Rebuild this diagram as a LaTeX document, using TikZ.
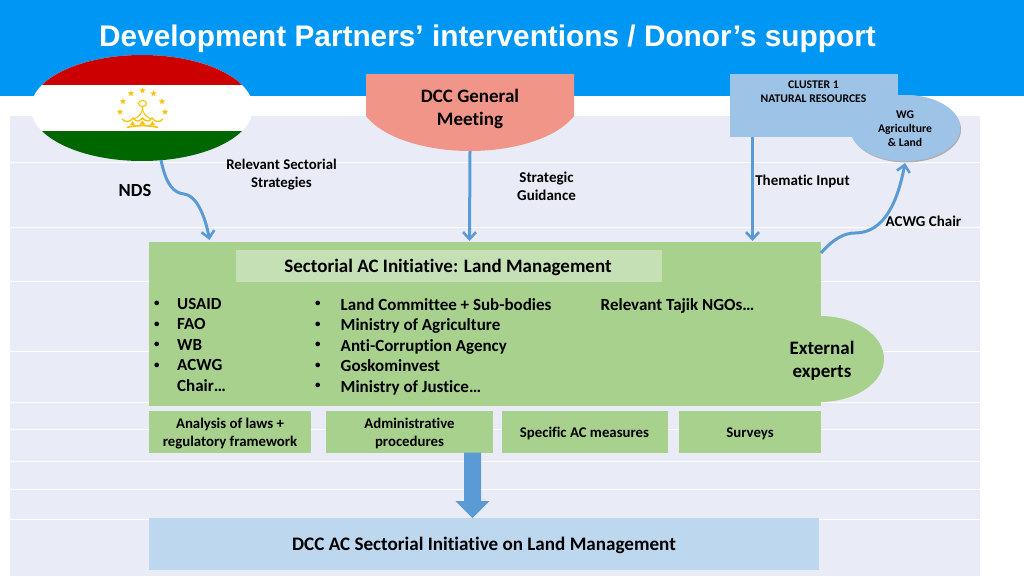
\documentclass[tikz,border=0pt]{standalone}
\usepackage{fontspec}
\setmainfont{Carlito}[Ligatures=NoCommon]
\newfontfamily\titlefont{Liberation Sans}
\usetikzlibrary{arrows.meta,shadows,shapes.geometric,calc}
\definecolor{topblue}{HTML}{0096F4}
\definecolor{band}{HTML}{E9ECF6}
\definecolor{boxgreen}{HTML}{A9D18E}
\definecolor{lightgreen}{HTML}{C5E0B4}
\definecolor{salmon}{HTML}{F09587}
\definecolor{clusterblue}{HTML}{9DC3E6}
\definecolor{wgblue}{HTML}{9DC3E6}
\definecolor{pale}{HTML}{BDD7EE}
\definecolor{arrowblue}{HTML}{5B9BD5}
\definecolor{flagred}{HTML}{CC0000}
\definecolor{flaggreen}{HTML}{006600}
\definecolor{gold}{HTML}{F8C300}
\tikzset{
 x=1pt,y=-1pt,
 lab/.style={font=\bfseries\fontsize{14.8}{18}\selectfont,align=center,text=black},
 small/.style={font=\bfseries\fontsize{11.7}{14}\selectfont,align=center,text=black},
 subbox/.style={fill=boxgreen,draw=none,minimum height=42pt,inner sep=0pt,align=center,anchor=north west},
 listtext/.style={font=\bfseries\fontsize{17}{20.5}\selectfont,align=left,anchor=north west,inner sep=0pt,text=black},
 bullets/.style={font=\bfseries\fontsize{11}{20.5}\selectfont,align=left,anchor=north west,inner sep=0pt,text=black},
 conn/.style={draw=arrowblue,line width=3pt,-{Straight Barb[length=7pt,width=13pt,line width=2.6pt]}},
 goldstar/.style={fill=gold,draw=none},
}
\begin{document}
\begin{tikzpicture}
\useasboundingbox (0,0) rectangle (1024,576);
\fill[white] (0,0) rectangle (1024,576);
\fill[topblue] (0,0) rectangle (1024,96);
\fill[band] (10,116) rectangle (980,576);
\foreach \yy in {162,227,281,351,402,429,461,489,519}
  \draw[white,line width=1pt] (10,\yy) -- (980,\yy);
\node[anchor=west,inner sep=0pt,text=white,font=\titlefont\bfseries\fontsize{29.8}{34}\selectfont] (title) at (99,38.5) {Development Partners’ interventions / Donor’s support};
% flag
\begin{scope}
\clip (142,108) ellipse [x radius=111pt,y radius=53pt];
\fill[white] (30,55) rectangle (255,162);
\fill[flagred] (30,55) rectangle (255,85);
\fill[flaggreen] (30,131) rectangle (255,162);
\end{scope}
\foreach \px/\py in {120/112, 123/101.5, 131/93.5, 142.5/90.5, 153.5/93.5, 162/101.5, 165/112}
  \node[goldstar,star,star points=5,star point ratio=2.4,minimum size=6.5pt,inner sep=0pt] at (\px,\py) {};
\draw[gold,line width=1.1pt,fill=none] (142.5,103.5) ellipse [x radius=4pt,y radius=3pt];
\draw[gold,line width=1pt] (142.5,106.5) .. controls (142.5,113) and (140,116) .. (134,119);
\draw[gold,line width=1pt] (142.5,106.5) .. controls (142.5,113) and (145,116) .. (151,119);
\draw[gold,line width=1.3pt] (122,119) .. controls (126,123) and (130,122) .. (133,118) .. controls (136,122) and (139,122) .. (142.5,118) .. controls (146,122) and (149,122) .. (152,118) .. controls (155,122) and (159,123) .. (163,119);
\fill[gold] (130,125) -- (132.5,121) -- (135,125) -- cycle;
\fill[gold] (139.5,124.5) -- (142.5,120.5) -- (145.5,124.5) -- cycle;
\fill[gold] (150,125) -- (152.5,121) -- (155,125) -- cycle;
\draw[gold,line width=1.6pt] (127,127.5) .. controls (135,125) and (150,125) .. (158,127.5);
% DCC general meeting
\fill[salmon] (366,74) -- (574,74) -- (574,116) .. controls (555,140) and (510,151) .. (470,151) .. controls (430,151) and (385,140) .. (366,116) -- cycle;
\node[align=center,font=\bfseries\fontsize{19}{23}\selectfont] (dcc) at (470,109) {DCC General\\Meeting};
\coordinate (dccb) at (470,151);
% WG ellipse and cluster
\node[fill=wgblue,ellipse,minimum width=110pt,minimum height=66pt,inner sep=0pt,drop shadow={shadow xshift=1pt,shadow yshift=-1.5pt,opacity=.45,fill=black!60}] (wg) at (905,128) {};
\fill[clusterblue] (730,74) rectangle (898,137);
\fill[wgblue] (905,128) ellipse [x radius=55pt,y radius=33pt];
\node[small] at (905,128.5) {WG\\Agriculture\\\& Land};
\node[small] (cluster) at (813.5,91.5) {CLUSTER 1\\NATURAL RESOURCES};
\coordinate (clb) at (752.5,137);
% green main
\node[fill=boxgreen,ellipse,minimum width=128pt,minimum height=86pt,inner sep=0pt] (ext) at (820,359) {};
\fill[boxgreen] (149,242) rectangle (821,406);
\coordinate (maintop1) at (209.5,241);
\coordinate (maintop2) at (469.5,241);
\coordinate (maintop3) at (752.5,241);
\coordinate (mainright) at (821,253);
\node[fill=lightgreen,minimum width=426pt,minimum height=32pt,inner sep=0pt,anchor=north west] (sac) at (236,250) {};
\node[inner sep=0pt,font=\bfseries\fontsize{19}{22}\selectfont] (sact) at (448,267.5) {Sectorial AC Initiative: Land Management};
\node[bullets] (l1) at (154,301) {•\\•\\•\\•};
\node[listtext] (l1b) at (177,298) {USAID\\FAO\\WB\\ACWG\\Chair…};
\node[bullets] (l2) at (315,301) {•\\•\\•\\•\\•};
\node[listtext] (l2b) at (340.5,298) {Land Committee + Sub-bodies\\Ministry of Agriculture\\Anti-Corruption Agency\\Goskominvest\\Ministry of Justice…};
\node[listtext] (ngo) at (600.5,298) {Relevant Tajik NGOs…};
\node[align=center,font=\bfseries\fontsize{19}{23}\selectfont] (extt) at (822,361) {External\\experts};
% sub boxes
\node[subbox,minimum width=162pt] (s1) at (149,411) {}; 
\node[lab] at (230,433.5) {Analysis of laws +\\regulatory framework};
\node[subbox,minimum width=167pt] (s2) at (326,411) {};
\node[lab] at (409.5,433.5) {Administrative\\procedures};
\node[subbox,minimum width=166pt] (s3) at (502,411) {};
\node[lab] at (584.5,433.5) {Specific AC measures};
\node[subbox,minimum width=142pt] (s4) at (679,411) {};
\node[lab] at (750,433.5) {Surveys};
% bottom
\node[fill=pale,minimum width=670pt,minimum height=52pt,inner sep=0pt,anchor=north west] (bot) at (149,518) {};
\node[inner sep=0pt,font=\bfseries\fontsize{19.1}{22}\selectfont] (bott) at (484,545.5) {DCC AC Sectorial Initiative on Land Management};
% block arrow
\fill[arrowblue] (464,452.5) -- (481,452.5) -- (481,501) -- (489.5,501) -- (472.5,518) -- (455.5,501) -- (464,501) -- cycle;
% connectors
\coordinate (flagb) at (161,160);
\draw[conn] (flagb) .. controls (166,185) and (174,193) .. (184,194) .. controls (196,195) and (205,215) .. (209.5,240);
\draw[conn] (dccb) -- (maintop2);
\draw[conn] (clb) -- (maintop3);
\draw[conn] (mainright) .. controls (834,238) and (845,233) .. (855,233) .. controls (885,233) and (898,200) .. (905,163);
% labels
\node[inner sep=0pt,font=\bfseries\fontsize{18.5}{20}\selectfont] (nds) at (135,190.5) {NDS};
\node[lab] (rs) at (281.5,175) {Relevant Sectorial\\Strategies};
\node[lab,font=\bfseries\fontsize{15}{18}\selectfont] (sg) at (546.5,186.5) {Strategic\\Guidance};
\node[lab,font=\bfseries\fontsize{15}{18}\selectfont] (ti) at (802.5,181.5) {Thematic Input};
\node[lab,font=\bfseries\fontsize{15}{18}\selectfont] (ac) at (923.5,221) {ACWG Chair};
\end{tikzpicture}
\end{document}
